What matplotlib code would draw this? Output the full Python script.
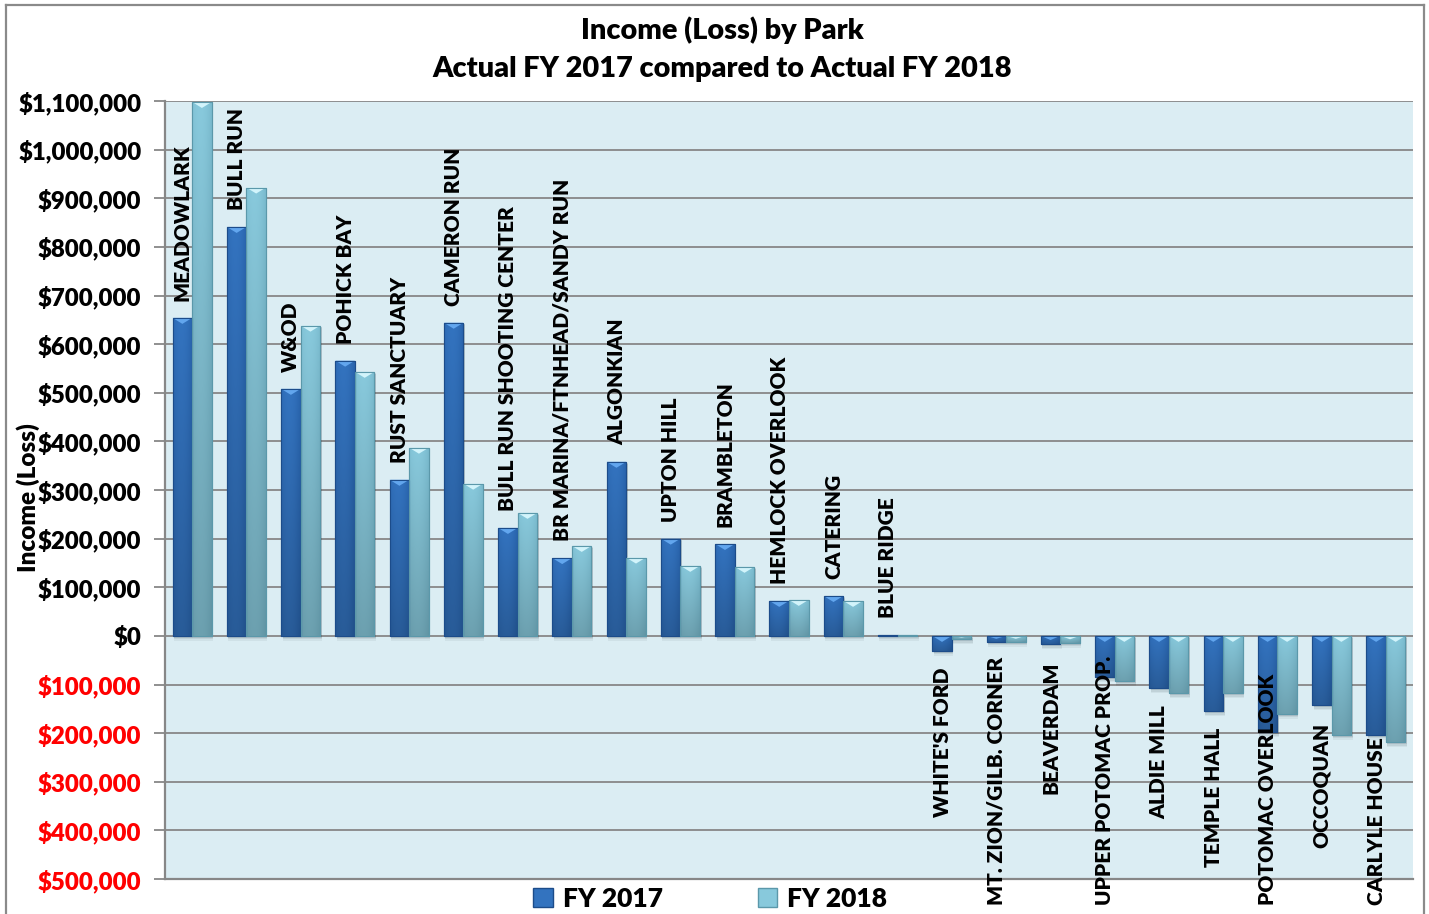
import matplotlib
matplotlib.use("Agg")
import matplotlib.pyplot as plt
import numpy as np
from matplotlib.patches import Rectangle, Polygon
from matplotlib.lines import Line2D
from matplotlib.ticker import FuncFormatter

plt.rcParams['font.family'] = ['Lato', 'DejaVu Sans']
plt.rcParams['font.weight'] = 'heavy'
WT = 'heavy'

parks = ["MEADOWLARK", "BULL RUN", "W&OD", "POHICK BAY", "RUST SANCTUARY", "CAMERON RUN",
         "BULL RUN SHOOTING CENTER", "BR MARINA/FTNHEAD/SANDY RUN", "ALGONKIAN", "UPTON HILL",
         "BRAMBLETON", "HEMLOCK OVERLOOK", "CATERING", "BLUE RIDGE", "WHITE'S FORD",
         "MT. ZION/GILB. CORNER", "BEAVERDAM", "UPPER POTOMAC PROP.", "ALDIE MILL",
         "TEMPLE HALL", "POTOMAC OVERLOOK", "OCCOQUAN", "CARLYLE HOUSE"]
fy2017 = [654000, 841000, 508000, 566000, 321000, 644000, 222000, 160000, 358000, 200000,
          189000, 72000, 82000, 1000, -31000, -12000, -17000, -85000, -108000,
          -155000, -198000, -143000, -203000]
fy2018 = [1098000, 922000, 638000, 543000, 387000, 313000, 253000, 185000, 161000, 144000,
          142000, 74000, 72000, 1000, -7000, -12000, -14000, -93000, -118000,
          -118000, -160000, -203000, -219000]
series_names = ["FY 2017", "FY 2018"]

W, H = 1429, 914
fig = plt.figure(figsize=(W / 100, H / 100), dpi=100)
ax = fig.add_axes([165 / W, 1 - 879 / H, (1413 - 165) / W, (879 - 101) / H])
ax.set_facecolor('#dbedf3')

ymin, ymax = -500000, 1100000
n = len(parks)
ax.set_xlim(-0.5, n - 0.5)
ax.set_ylim(ymin, ymax)
px_y = (ymax - ymin) / 778.0   # data units per pixel
px_x = n / 1248.0

bw = 0.36
x = np.arange(n)

styles = [
    dict(top='#3373bf', edge='#1c4c8a', side='#1f569c', bevel='#62a6ee'),
    dict(top='#88c9dc', edge='#5b98aa', side='#6eaec2', bevel='#d2f4fb'),
]


def hex_rgb(c):
    return np.array(matplotlib.colors.to_rgb(c))


def draw_bar(xc, v, st):
    x0, x1 = xc - bw / 2, xc + bw / 2
    y0, y1 = min(0, v), max(0, v)
    if y1 - y0 < 1:
        y1 = y0 + 1
    # soft drop shadow
    for k, a in [(5, 0.06), (3.5, 0.08), (2, 0.10)]:
        ax.add_patch(Rectangle((x0 + 1.5 * px_x, y0 - k * px_y), bw, (y1 - y0) + 0.5 * k * px_y,
                               facecolor='#1a2a33', edgecolor='none', alpha=a, zorder=2))
    rect = Rectangle((x0, y0), bw, y1 - y0, facecolor=st['top'], edgecolor=st['edge'],
                     linewidth=0.8, zorder=3)
    ax.add_patch(rect)
    # horizontal shading across the bar, darkening toward its lower end
    cols = np.linspace(0, 1, 24)
    prof = 1 - 0.55 * (np.abs(cols - 0.42) / 0.58) ** 2
    c_mid, c_side = hex_rgb(st['top']), hex_rgb(st['side'])
    row = c_side[None, :] + (c_mid - c_side)[None, :] * prof[:, None]
    fade = np.linspace(1.0, 0.8, 40)
    img = np.clip(fade[:, None, None] * row[None, :, :], 0, 1)
    im = ax.imshow(img, extent=[x0, x1, y0, y1], aspect='auto', origin='upper',
                   interpolation='bilinear', zorder=3.1)
    im.set_clip_path(rect)
    ax.add_patch(Rectangle((x0, y0), bw, y1 - y0, facecolor='none', edgecolor=st['edge'],
                           linewidth=0.8, zorder=3.3))
    # bevel at the top end
    d = min(6 * px_y, (y1 - y0) / 2)
    if d > 1.5 * px_y:
        ax.add_patch(Polygon([(x0, y1), (x1, y1), (xc, y1 - d)], closed=True,
                             facecolor=st['bevel'], edgecolor='none', zorder=3.2))


for i in range(n):
    draw_bar(x[i] - bw / 2, fy2017[i], styles[0])
    draw_bar(x[i] + bw / 2, fy2018[i], styles[1])

ax.set_xlim(-0.5, n - 0.5)
ax.set_ylim(ymin, ymax)

# grid and axes
ax.set_yticks(np.arange(ymin, ymax + 1, 100000))
ax.yaxis.set_major_formatter(FuncFormatter(lambda v, p: f"${abs(v):,.0f}"))
ax.grid(axis='y', color='#878787', linewidth=1.3, zorder=1)
ax.set_axisbelow(True)
ax.set_xticks([])
for s in ['top', 'right']:
    ax.spines[s].set_visible(False)
for s in ['left', 'bottom']:
    ax.spines[s].set_color('#878787')
    ax.spines[s].set_linewidth(1.6)
ax.tick_params(axis='y', length=8, width=1.3, color='#878787', pad=9, labelsize=17.3)
for lab, v in zip(ax.get_yticklabels(), ax.get_yticks()):
    lab.set_fontweight(WT)
    lab.set_color('red' if v < 0 else 'black')

fig.text(28 / W, 1 - 498 / H, "Income (Loss)", rotation=90, ha='center', va='center',
         fontsize=17.5, fontweight=WT)

fig.text(722 / W, 1 - 30 / H, "Income (Loss) by Park", ha='center', va='center',
         fontsize=20.8, fontweight=WT)
fig.text(722 / W, 1 - 69 / H, "Actual FY 2017 compared to Actual FY 2018", ha='center',
         va='center', fontsize=20.8, fontweight=WT)

# park names above / below the FY 2017 bars
off = 17 * px_y
labels = []
for i in range(n):
    xc = x[i] - bw / 2
    v = fy2017[i]
    if v >= 0:
        t = ax.text(xc, v + off, parks[i], rotation=90, ha='center', va='bottom',
                    fontsize=15, fontweight=WT, zorder=5)
    else:
        t = ax.text(xc, v - off, parks[i], rotation=90, ha='center', va='top',
                    fontsize=15, fontweight=WT, zorder=5)
        labels.append(t)

fig.canvas.draw()
renderer = fig.canvas.get_renderer()
for t in labels:
    bb = t.get_window_extent(renderer)
    if bb.y0 < 9:
        xd, yd = t.get_position()
        xp, yp = ax.transData.transform((xd, yd))
        yp += 9 - bb.y0
        t.set_position(ax.transData.inverted().transform((xp, yp)))

# legend
handles = [Rectangle((0, 0), 1, 1, facecolor=styles[k]['top'], edgecolor=styles[k]['edge'])
           for k in range(2)]
fig.legend(handles, series_names, loc='center', bbox_to_anchor=(710 / W, 1 - 899 / H),
           ncol=2, frameon=False, handlelength=0.75, handleheight=0.75,
           handletextpad=0.35, columnspacing=3.6, prop={'weight': WT, 'size': 19})

# outer chart border
bc = '#8a8a8a'
fig.add_artist(Line2D([6 / W, 6 / W], [0, 1 - 5 / H], transform=fig.transFigure, color=bc, lw=1.6))
fig.add_artist(Line2D([6 / W, 1424 / W], [1 - 5 / H, 1 - 5 / H], transform=fig.transFigure, color=bc, lw=1.6))
fig.add_artist(Line2D([1424 / W, 1424 / W], [0, 1 - 5 / H], transform=fig.transFigure, color=bc, lw=1.6))

fig.savefig("out.png", dpi=100, facecolor='white')
